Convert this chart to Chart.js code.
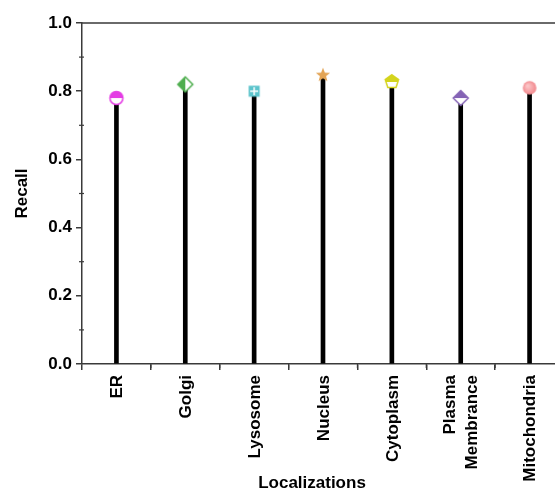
<!DOCTYPE html>
<html>
<head>
<meta charset="utf-8">
<script src="https://cdn.jsdelivr.net/npm/chart.js@4.4.1/dist/chart.umd.min.js"></script>
<style>
    html, body { margin: 0; padding: 0; background: #fff; overflow: hidden; }
    #wrap { width: 555px; height: 492px; overflow: hidden; }
</style>
</head>
<body>
<div id="wrap"><canvas id="recallChart" width="572" height="492"></canvas></div>
<script>
const categories = ['ER', 'Golgi', 'Lysosome', 'Nucleus', 'Cytoplasm', ['Plasma', 'Membrance'], 'Mitochondria'];
const recallValues = [0.78, 0.82, 0.80, 0.85, 0.83, 0.78, 0.81];
const markerKinds = ['halfCircle', 'halfDiamondLeft', 'squareGrid', 'star', 'halfPentagon', 'halfDiamondTop', 'ball'];
const markerColors = ['#e43de4', '#4fae4f', '#5cc4cc', '#e3a455', '#d4d41c', '#8463b5', '#f2878c'];
const minorY = [0.1, 0.3, 0.5, 0.7, 0.9];

const FONT = "'Liberation Sans', Arial, sans-serif";
const AXIS_COLOR = '#3a3a3a';

// Build a small canvas for each marker so Chart.js can use it as pointStyle
function makeMarker(kind, color) {
    const size = 20;
    const c = document.createElement('canvas');
    c.width = size;
    c.height = size;
    const ctx = c.getContext('2d');
    const cx = size / 2, cy = size / 2;
    ctx.lineWidth = 1.5;
    ctx.strokeStyle = color;

    // fills the shape path, top/left part coloured, the rest white
    function halfFill(path, clipRect) {
        ctx.fillStyle = '#fff';
        path(); ctx.fill();
        ctx.save();
        ctx.beginPath();
        ctx.rect(clipRect[0], clipRect[1], clipRect[2], clipRect[3]);
        ctx.clip();
        ctx.fillStyle = color;
        path(); ctx.fill();
        ctx.restore();
        path(); ctx.stroke();
    }

    if (kind === 'halfCircle') {
        const path = () => { ctx.beginPath(); ctx.arc(cx, cy, 6.5, 0, Math.PI * 2); };
        halfFill(path, [0, 0, size, cy]);
    } else if (kind === 'halfDiamondLeft' || kind === 'halfDiamondTop') {
        const r = 7.5;
        const path = () => {
            ctx.beginPath();
            ctx.moveTo(cx, cy - r); ctx.lineTo(cx + r, cy);
            ctx.lineTo(cx, cy + r); ctx.lineTo(cx - r, cy);
            ctx.closePath();
        };
        if (kind === 'halfDiamondLeft') halfFill(path, [0, 0, cx, size]);
        else halfFill(path, [0, 0, size, cy]);
    } else if (kind === 'squareGrid') {
        const s = 11;
        ctx.fillStyle = color;
        ctx.fillRect(cx - s / 2, cy - s / 2, s, s);
        ctx.fillStyle = '#fff';
        ctx.fillRect(cx - 0.75, cy - s / 2 + 1.5, 1.5, s - 3);
        ctx.fillRect(cx - s / 2 + 1.5, cy - 0.75, s - 3, 1.5);
    } else if (kind === 'star') {
        ctx.beginPath();
        for (let i = 0; i < 10; i++) {
            const r = i % 2 === 0 ? 7.5 : 3.2;
            const a = -Math.PI / 2 + i * Math.PI / 5;
            const px = cx + r * Math.cos(a), py = cy + 1 + r * Math.sin(a);
            if (i === 0) ctx.moveTo(px, py); else ctx.lineTo(px, py);
        }
        ctx.closePath();
        ctx.fillStyle = color;
        ctx.fill();
    } else if (kind === 'halfPentagon') {
        const path = () => {
            ctx.beginPath();
            for (let i = 0; i < 5; i++) {
                const a = -Math.PI / 2 + i * 2 * Math.PI / 5;
                const px = cx + 7 * Math.cos(a), py = cy + 0.8 + 7 * Math.sin(a);
                if (i === 0) ctx.moveTo(px, py); else ctx.lineTo(px, py);
            }
            ctx.closePath();
        };
        halfFill(path, [0, 0, size, cy + 1]);
    } else if (kind === 'ball') {
        const g = ctx.createRadialGradient(cx - 2, cy - 2, 1, cx, cy, 7);
        g.addColorStop(0, '#fbc4c6');
        g.addColorStop(1, color);
        ctx.beginPath();
        ctx.arc(cx, cy, 6.8, 0, Math.PI * 2);
        ctx.fillStyle = g;
        ctx.fill();
    }
    return c;
}

const markers = markerKinds.map((k, i) => makeMarker(k, markerColors[i]));

// minor ticks, the top/right frame, rotated category labels and both axis titles
const framePlugin = {
    id: 'frame',
    afterDraw(chart) {
        const { ctx, chartArea, scales } = chart;
        const x = scales.x, y = scales.y;
        ctx.save();
        ctx.strokeStyle = AXIS_COLOR;
        ctx.lineWidth = 1.5;
        ctx.beginPath();
        ctx.moveTo(chartArea.left, chartArea.top);
        ctx.lineTo(chartArea.right, chartArea.top);
        ctx.lineTo(chartArea.right, chartArea.bottom);
        ctx.stroke();

        ctx.lineWidth = 1.2;
        minorY.forEach(v => {
            const py = y.getPixelForValue(v);
            ctx.beginPath();
            ctx.moveTo(chartArea.left - 3, py);
            ctx.lineTo(chartArea.left + 2, py);
            ctx.stroke();
        });
        for (let i = 0; i < categories.length; i++) {
            const px = x.getPixelForValue(i + 0.5);
            ctx.beginPath();
            ctx.moveTo(px, chartArea.bottom);
            ctx.lineTo(px, chartArea.bottom + 4);
            ctx.stroke();
        }

        ctx.fillStyle = '#000';
        ctx.font = 'bold 17px ' + FONT;

        // category labels, read bottom to top, ending just under the axis
        ctx.textAlign = 'right';
        ctx.textBaseline = 'middle';
        const lineGap = 22;
        categories.forEach((label, i) => {
            const lines = Array.isArray(label) ? label : [label];
            const px = x.getPixelForValue(i);
            lines.forEach((line, j) => {
                const off = (j - (lines.length - 1) / 2) * lineGap;
                ctx.save();
                ctx.translate(px + off + 1, chartArea.bottom + 11);
                ctx.rotate(-Math.PI / 2);
                ctx.fillText(line, 0, 0);
                ctx.restore();
            });
        });

        ctx.textAlign = 'center';
        ctx.fillText('Localizations', 312, 483);
        ctx.translate(22, (chartArea.top + chartArea.bottom) / 2);
        ctx.rotate(-Math.PI / 2);
        ctx.fillText('Recall', 0, 0);
        ctx.restore();
    }
};

const ctx = document.getElementById('recallChart').getContext('2d');
new Chart(ctx, {
    type: 'bar',
    data: {
        labels: categories,
        datasets: [
            {
                type: 'line',
                label: 'Recall',
                data: recallValues,
                showLine: false,
                pointStyle: markers,
                pointRadius: 7,
                order: 0
            },
            {
                label: 'Stem',
                data: recallValues,
                backgroundColor: '#000',
                barThickness: 4,
                order: 1
            }
        ]
    },
    options: {
        responsive: false,
        animation: false,
        events: [],
        layout: { padding: { top: 23, right: 6, left: 0, bottom: 0 } },
        plugins: {
            legend: { display: false },
            tooltip: { enabled: false }
        },
        scales: {
            x: {
                offset: true,
                grid: { drawOnChartArea: false, tickLength: 6, color: AXIS_COLOR, lineWidth: 1.5 },
                border: { color: AXIS_COLOR, width: 1.5 },
                ticks: { display: false },
                afterFit(scale) { scale.height = 128; }
            },
            y: {
                min: 0,
                max: 1,
                grid: { drawOnChartArea: false, tickLength: 6, color: AXIS_COLOR, lineWidth: 1.5 },
                border: { color: AXIS_COLOR, width: 1.5 },
                ticks: {
                    stepSize: 0.2,
                    padding: 4,
                    color: '#000',
                    font: { family: FONT, size: 17, weight: 'bold' },
                    callback: v => v.toFixed(1)
                },
                afterFit(scale) { scale.width = 82; }
            }
        }
    },
    plugins: [framePlugin]
});
</script>
</body>
</html>
